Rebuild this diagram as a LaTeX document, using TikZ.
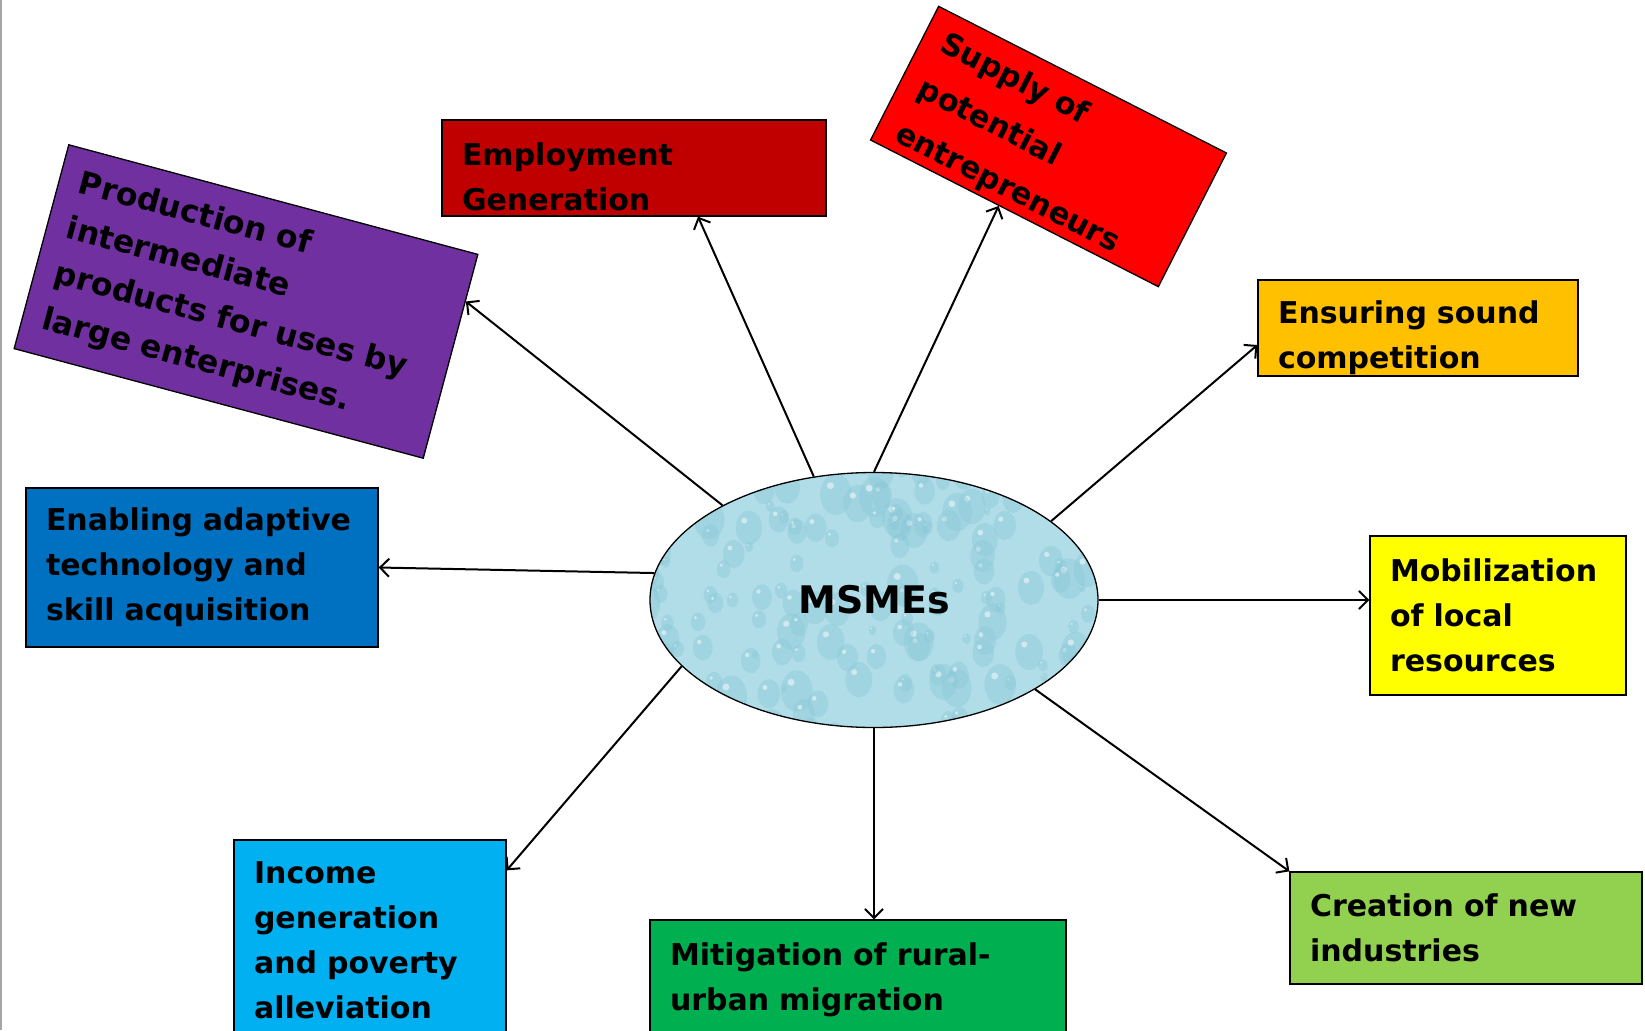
\documentclass[tikz,border=0pt]{standalone}
\usepackage{fontspec}
\setmainfont{DejaVu Sans}
\usetikzlibrary{shapes.geometric,arrows.meta}

\definecolor{prodpurple}{HTML}{7030A0}
\definecolor{empred}{HTML}{C00000}
\definecolor{suppred}{HTML}{FF0000}
\definecolor{ensorange}{HTML}{FFC000}
\definecolor{mobyellow}{HTML}{FFFF00}
\definecolor{cregreen}{HTML}{92D050}
\definecolor{mitgreen}{HTML}{00B050}
\definecolor{incblue}{HTML}{00B0F0}
\definecolor{enablue}{HTML}{0070C0}
\definecolor{waterbase}{HTML}{B0DDE8}
\definecolor{waterdrop}{HTML}{86C6D6}

\begin{document}
\begin{tikzpicture}[x=1pt,y=-1pt]
\useasboundingbox (0,0) rectangle (1645,1030);
\draw[gray!70,line width=2pt] (1,0) -- (1,1030);

\tikzset{
    box/.style={draw=black,line width=1.3pt,align=left,inner xsep=20pt,inner ysep=0pt,
        font=\fontsize{30}{45}\selectfont\bfseries},
    link/.style={-{Straight Barb[length=9pt,width=18pt]},line width=2pt}
}

% centre
\path[fill=waterbase] (874,600) ellipse [x radius=224,y radius=127.5];
\begin{scope}
\clip (874,600) ellipse [x radius=224,y radius=127.5];
\pgfmathsetseed{11}
\foreach \i in {1,...,170}{
    \pgfmathsetmacro\dx{rnd*470-235}
    \pgfmathsetmacro\dy{rnd*270-135}
    \pgfmathsetmacro\rr{3+rnd*13}
    \fill[waterdrop,opacity=0.35] (874+\dx,600+\dy) ellipse [x radius=\rr,y radius=1.3*\rr];
    \fill[white,opacity=0.5] (874+\dx-0.35*\rr,600+\dy-0.55*\rr) circle [radius=0.22*\rr];
}
\end{scope}
\node (msme) [ellipse,draw=black,line width=1.3pt,minimum width=448,minimum height=255,inner sep=0pt,
    font=\fontsize{38}{44}\selectfont\bfseries] at (874,600) {MSMEs};

% boxes
\node (prod) [box,fill=prodpurple,rotate=-15,text width=383.5,minimum width=423.5,minimum height=211,
    font=\fontsize{31.5}{47}\selectfont\bfseries]
    at (246,301.5) {Production of\\intermediate\\products for uses by\\large enterprises.};
\node (emp) [box,fill=empred,text width=344,minimum width=384,minimum height=96]
    at (634,168) {\rule{0pt}{41pt}Employment\\Generation};
\node (sup) [box,fill=suppred,rotate=-27,text width=283,minimum width=323,minimum height=150,
    font=\fontsize{30.5}{50}\selectfont\bfseries]
    at (1048.5,146.5) {\rule{0pt}{36pt}Supply of\\potential\\entrepreneurs};
\node (ens) [box,fill=ensorange,text width=280,minimum width=320,minimum height=96]
    at (1418,328) {\rule{0pt}{43pt}Ensuring sound\\competition};
\node (mob) [box,fill=mobyellow,text width=216,minimum width=256,minimum height=159]
    at (1498,615.5) {Mobilization\\of local\\resources};
\node (cre) [box,fill=cregreen,text width=312,minimum width=352,minimum height=112]
    at (1466,928) {Creation of new\\industries};
\node (mit) [box,fill=mitgreen,text width=376,minimum width=416,minimum height=112]
    at (858,976) {\rule{0pt}{30pt}Mitigation of rural-\\urban migration};
\node (inc) [box,fill=incblue,text width=232,minimum width=272,minimum height=200]
    at (370,940) {Income\\generation\\and poverty\\alleviation};
\node (ena) [box,fill=enablue,text width=312,minimum width=352,minimum height=159]
    at (202,567.5) {Enabling adaptive\\technology and\\skill acquisition};

% arrows
\draw[link] (msme.148.9) -- (prod.15.6);
\draw[link] (msme.116.6) -- ([xshift=64pt]emp.south);
\draw[link] (msme.90) -- (sup.-103.5);
\draw[link] (msme.24.6) -- ([yshift=-17pt]ens.west);
\draw[link] (msme.0) -- ([yshift=15.5pt]mob.west);
\draw[link] (msme.-29.9) -- (cre.north west);
\draw[link] (msme.-90) -- ([xshift=16pt]mit.north);
\draw[link] (msme.-161.2) -- ([yshift=-31pt]inc.north east);
\draw[link] (msme.173.6) -- (ena.east);

\end{tikzpicture}
\end{document}
